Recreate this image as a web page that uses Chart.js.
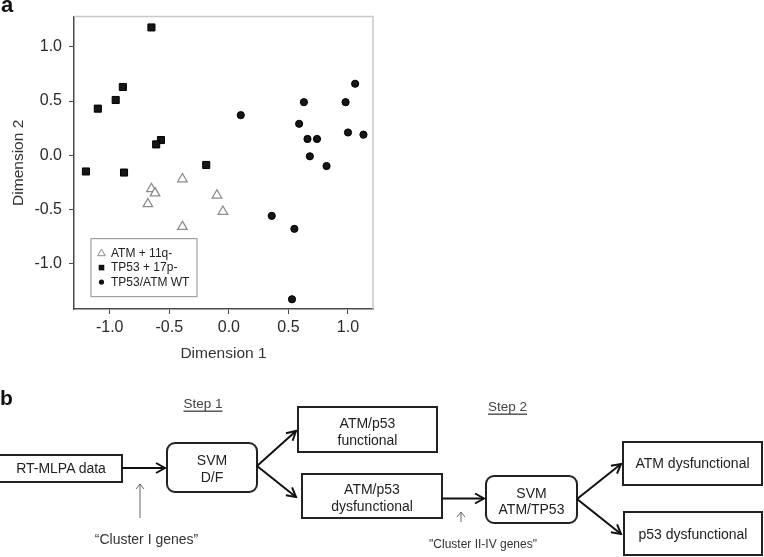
<!DOCTYPE html>
<html>
<head>
<meta charset="utf-8">
<script src="https://cdn.jsdelivr.net/npm/chart.js@4/dist/chart.umd.min.js"></script>
<style>
  html, body { margin: 0; padding: 0; background: #fff; overflow: hidden; }
  #page { position: relative; width: 764px; height: 557px; }
  #plotBox { position: absolute; left: 0; top: 0; width: 380px; height: 370px; }
  #flow { position: absolute; left: 0; top: 0; }
  #flow text { font-family: "Liberation Sans", Arial, sans-serif; fill: #222; }
</style>
</head>
<body>
<div id="page">
  <div id="plotBox"><canvas id="mdsChart"></canvas></div>

  <svg id="flow" width="764" height="557" viewBox="0 0 764 557">
    <defs>
      <marker id="head" markerUnits="userSpaceOnUse" markerWidth="12" markerHeight="12" refX="10" refY="6" orient="auto">
        <path d="M1,1 L10,6 L1,11" fill="none" stroke="#111" stroke-width="2"/>
      </marker>
      <marker id="thin" markerUnits="userSpaceOnUse" markerWidth="10" markerHeight="10" refX="5" refY="1" orient="0">
        <path d="M1,6 L5,1 L9,6" fill="none" stroke="#666" stroke-width="1"/>
      </marker>
    </defs>

    <text x="1" y="12" font-size="22" font-weight="bold" style="fill:#111">a</text>
    <text x="0" y="405" font-size="21" font-weight="bold" style="fill:#111">b</text>

    <!-- step headers -->
    <text x="203" y="403" font-size="13.5" text-anchor="middle" dominant-baseline="central" style="text-decoration: underline; fill:#444">Step 1</text>
    <text x="507.5" y="406" font-size="13.5" text-anchor="middle" dominant-baseline="central" style="text-decoration: underline; fill:#444">Step 2</text>

    <!-- boxes -->
    <g fill="#fff" stroke="#222" stroke-width="2">
      <rect x="-1" y="455" width="123" height="27"/>
      <rect x="167" y="443" width="90" height="49" rx="8" ry="8"/>
      <rect x="298" y="407" width="139" height="45"/>
      <rect x="302" y="474" width="140" height="44"/>
      <rect x="486" y="476" width="91" height="47" rx="8" ry="8"/>
      <rect x="623" y="442" width="139" height="43"/>
      <rect x="624" y="512" width="138" height="43"/>
    </g>

    <g font-size="14" text-anchor="middle" dominant-baseline="central">
      <text x="61" y="468">RT-MLPA data</text>
      <text x="212" y="460">SVM</text>
      <text x="212" y="477">D/F</text>
      <text x="367.5" y="423">ATM/p53</text>
      <text x="367.5" y="439.5">functional</text>
      <text x="372" y="488.5">ATM/p53</text>
      <text x="372" y="505.5">dysfunctional</text>
      <text x="531.5" y="492.5">SVM</text>
      <text x="531.5" y="508.5">ATM/TP53</text>
      <text x="692.5" y="463">ATM dysfunctional</text>
      <text x="693" y="533.5">p53 dysfunctional</text>
    </g>

    <!-- arrows -->
    <g stroke="#111" stroke-width="2" fill="none" marker-end="url(#head)">
      <line x1="122" y1="468" x2="165" y2="468"/>
      <line x1="257" y1="466" x2="296" y2="431"/>
      <line x1="257" y1="466" x2="296" y2="497"/>
      <line x1="442" y1="498.5" x2="484" y2="498.5"/>
      <line x1="577" y1="499" x2="621" y2="464"/>
      <line x1="577" y1="499" x2="621" y2="534"/>
    </g>
    <g stroke="#666" stroke-width="1" fill="none" marker-end="url(#thin)">
      <line x1="140" y1="518" x2="140" y2="484"/>
      <line x1="461" y1="522" x2="461" y2="512"/>
    </g>

    <text x="146.5" y="538.5" font-size="14" text-anchor="middle" dominant-baseline="central" style="fill:#333">“Cluster I genes”</text>
    <text x="483" y="543.5" font-size="12" text-anchor="middle" dominant-baseline="central" style="fill:#333">"Cluster II-IV genes"</text>
  </svg>
</div>

<script>
// MDS coordinates
const atmX  = [-0.39, -0.65, -0.62, -0.68, -0.10, -0.05, -0.39];
const atmY  = [-0.22, -0.31, -0.35, -0.45, -0.37, -0.52, -0.66];

const tp53X = [-0.65, -0.89, -0.95, -1.10, -0.57, -0.61, -1.20, -0.88, -0.19];
const tp53Y = [ 1.18,  0.63,  0.51,  0.43,  0.14,  0.10, -0.15, -0.16, -0.09];

const wtX   = [0.10, 0.63, 0.59, 0.66, 0.74, 0.68, 0.82, 0.98, 1.06, 1.00, 1.13, 0.36, 0.55, 0.53];
const wtY   = [0.37, 0.49, 0.29, 0.15, 0.15, -0.01, -0.10, 0.49, 0.66, 0.21, 0.19, -0.56, -0.68, -1.33];

const seriesLabels = ['ATM + 11q-', 'TP53 + 17p-', 'TP53/ATM WT'];
const xTicks = [-1.0, -0.5, 0.0, 0.5, 1.0];
const yTicks = [-1.0, -0.5, 0.0, 0.5, 1.0];

function pts(xs, ys) {
    return xs.map(function(x, i) { return { x: x, y: ys[i] }; });
}

Chart.defaults.font.family = '"Liberation Sans", Arial, sans-serif';
Chart.defaults.color = '#333';

// light grey top/right edge of the plot frame
const framePlugin = {
    id: 'frame',
    beforeDatasetsDraw(chart) {
        const a = chart.chartArea;
        const ctx = chart.ctx;
        ctx.save();
        ctx.strokeStyle = '#c8c8c8';
        ctx.lineWidth = 1.5;
        ctx.beginPath();
        ctx.moveTo(a.left, a.top);
        ctx.lineTo(a.right, a.top);
        ctx.lineTo(a.right, a.bottom);
        ctx.stroke();
        ctx.restore();
    }
};

function marker(ctx, style, x, y) {
    ctx.beginPath();
    if (style === 'triangle') {
        ctx.moveTo(x, y - 4);
        ctx.lineTo(x + 3.8, y + 2.6);
        ctx.lineTo(x - 3.8, y + 2.6);
        ctx.closePath();
        ctx.fillStyle = '#fff';
        ctx.strokeStyle = '#8c8c8c';
        ctx.lineWidth = 1;
        ctx.fill();
        ctx.stroke();
    } else if (style === 'rect') {
        ctx.rect(x - 2.8, y - 2.8, 5.6, 5.6);
        ctx.fillStyle = '#111';
        ctx.fill();
    } else {
        ctx.arc(x, y, 2.6, 0, Math.PI * 2);
        ctx.fillStyle = '#111';
        ctx.fill();
    }
}

// boxed legend inside the plot, lower left
const boxLegend = {
    id: 'boxLegend',
    afterDraw(chart) {
        const ctx = chart.ctx;
        const a = chart.chartArea;
        const bx = a.left + 17, by = a.top + 222;
        ctx.save();
        ctx.fillStyle = '#fff';
        ctx.fillRect(bx, by, 106, 58);
        ctx.strokeStyle = '#a0a0a0';
        ctx.lineWidth = 1.2;
        ctx.strokeRect(bx, by, 106, 58);
        ctx.font = '12px "Liberation Sans", Arial, sans-serif';
        ctx.textBaseline = 'middle';
        chart.data.datasets.forEach(function(ds, i) {
            const y = by + 14.5 + i * 14.5;
            marker(ctx, ds.pointStyle, bx + 10.5, y);
            ctx.fillStyle = '#222';
            ctx.fillText(ds.label, bx + 20, y + 0.5);
        });
        ctx.restore();
    }
};

new Chart(document.getElementById('mdsChart'), {
    type: 'scatter',
    data: {
        datasets: [{
            label: seriesLabels[0],
            data: pts(atmX, atmY),
            pointStyle: 'triangle',
            pointRadius: 5.5,
            backgroundColor: '#fff',
            borderColor: '#8c8c8c',
            borderWidth: 1.3
        }, {
            label: seriesLabels[1],
            data: pts(tp53X, tp53Y),
            pointStyle: 'rect',
            pointRadius: 5,
            backgroundColor: '#161616',
            borderColor: '#000',
            borderWidth: 1
        }, {
            label: seriesLabels[2],
            data: pts(wtX, wtY),
            pointStyle: 'circle',
            pointRadius: 3.6,
            backgroundColor: '#161616',
            borderColor: '#000',
            borderWidth: 1
        }]
    },
    options: {
        responsive: true,
        maintainAspectRatio: false,
        animation: false,
        layout: {
            padding: { left: 0, top: 13, right: 7, bottom: 0 }
        },
        plugins: {
            legend: { display: false },
            tooltip: { enabled: false }
        },
        scales: {
            x: {
                type: 'linear',
                min: -1.30,
                max: 1.21,
                afterBuildTicks: function(scale) {
                    scale.ticks = xTicks.map(function(v) { return { value: v }; });
                },
                afterFit: function(scale) { scale.height = 61; },
                border: { display: true, color: '#4a4a4a', width: 1.5 },
                grid: { drawOnChartArea: false, drawTicks: true, tickLength: 5, color: '#4a4a4a' },
                ticks: {
                    padding: 4,
                    font: { size: 16 },
                    color: '#2a2a2a',
                    callback: function(v) { return Number(v).toFixed(1); }
                },
                title: {
                    display: true,
                    text: 'Dimension 1',
                    font: { size: 15.5 },
                    color: '#333',
                    padding: { top: 0, bottom: 7 }
                }
            },
            y: {
                type: 'linear',
                min: -1.42,
                max: 1.28,
                afterBuildTicks: function(scale) {
                    scale.ticks = yTicks.map(function(v) { return { value: v }; });
                },
                afterFit: function(scale) { scale.width = 74; },
                border: { display: true, color: '#4a4a4a', width: 1.5 },
                grid: { drawOnChartArea: false, drawTicks: true, tickLength: 5, color: '#4a4a4a' },
                ticks: {
                    padding: 7,
                    font: { size: 16 },
                    color: '#2a2a2a',
                    callback: function(v) { return Number(v).toFixed(1); }
                },
                title: {
                    display: true,
                    text: 'Dimension 2',
                    font: { size: 15.5 },
                    color: '#333',
                    padding: { top: 9, bottom: 0 }
                }
            }
        }
    },
    plugins: [framePlugin, boxLegend]
});
</script>
</body>
</html>
